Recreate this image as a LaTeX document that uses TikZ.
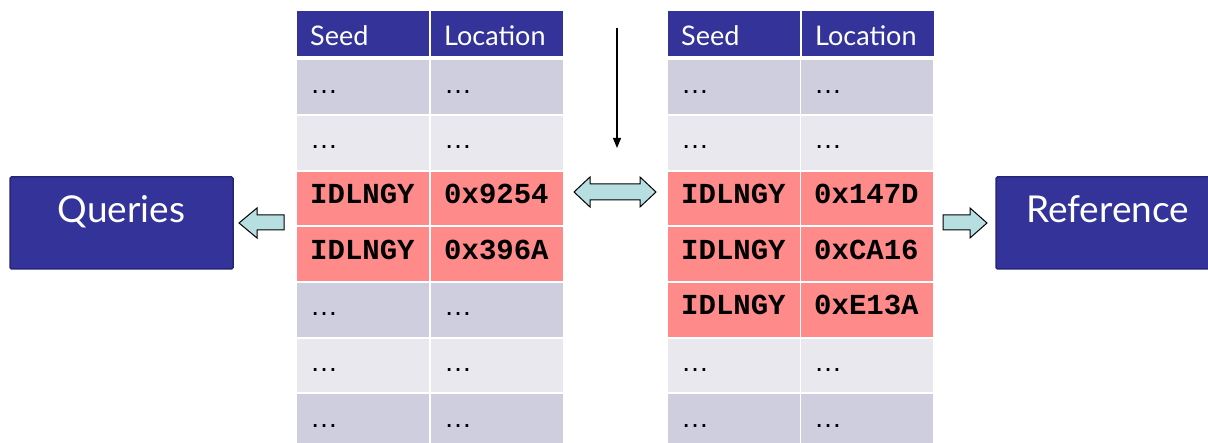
\documentclass[tikz,border=0pt]{standalone}
\usepackage{fontspec}
\setmainfont{Lato}
\setmonofont{Liberation Mono}
\newfontfamily\dotsfont{Liberation Sans}
\usetikzlibrary{arrows.meta}

\definecolor{hdr}{RGB}{51,51,153}
\definecolor{boxedge}{RGB}{38,38,120}
\definecolor{rowdark}{RGB}{207,206,223}
\definecolor{rowlight}{RGB}{232,232,238}
\definecolor{hit}{RGB}{255,138,138}
\definecolor{arrowfill}{RGB}{183,222,224}

\tikzset{
  cell/.style={anchor=north west, inner sep=0pt, minimum width=132pt,
    minimum height=53.7pt, text width=106pt, align=left},
  hdrcell/.style={cell, minimum height=45pt, fill=hdr, text=white,
    font=\fontsize{27}{30}\selectfont, text height=26pt, text depth=3pt},
  dotcell/.style={cell, font=\dotsfont\fontsize{28}{30}\selectfont,
    text height=20pt, text depth=7.7pt},
  dark/.style={dotcell, fill=rowdark},
  light/.style={dotcell, fill=rowlight},
  hitcell/.style={cell, fill=hit,
    font=\ttfamily\bfseries\fontsize{29}{31}\selectfont,
    text height=18pt, text depth=7.7pt},
  bigbox/.style={draw=boxedge, line width=1.5pt, fill=hdr, rounded corners=1.5pt,
    text=white, minimum width=223pt, minimum height=92pt, inner sep=0pt,
    font=\fontsize{37}{40}\selectfont, text height=20pt, text depth=20pt},
  blockarrow/.style={draw=black, line width=1pt, fill=arrowfill, line join=miter},
  pointer/.style={line width=1.2pt, -{Triangle[width=8pt,length=10pt]}}
}

\begin{document}
\begin{tikzpicture}[x=1pt,y=-1pt]
\useasboundingbox (0,0) rectangle (1208,443);

% the two seed tables
\foreach \tab/\x in {L/297, R/668} {
  \node[hdrcell] (\tab-h1) at (\x,11) {Seed};
  \node[hdrcell] (\tab-h2) at (\x+134,11) {Location};
}

% query table rows
\foreach \i/\kind/\a/\b in {1/dark/…/…, 2/light/…/…,
    3/hitcell/IDLNGY/0x9254, 4/hitcell/IDLNGY/0x396A,
    5/dark/…/…, 6/light/…/…, 7/dark/…/…} {
  \node[\kind] (L-\i-1) at (297,60+55.67*\i-55.67) {\a};
  \node[\kind] (L-\i-2) at (431,60+55.67*\i-55.67) {\b};
}

% reference table rows
\foreach \i/\kind/\a/\b in {1/dark/…/…, 2/light/…/…,
    3/hitcell/IDLNGY/0x147D, 4/hitcell/IDLNGY/0xCA16,
    5/hitcell/IDLNGY/0xE13A, 6/light/…/…, 7/dark/…/…} {
  \node[\kind] (R-\i-1) at (668,60+55.67*\i-55.67) {\a};
  \node[\kind] (R-\i-2) at (801,60+55.67*\i-55.67) {\b};
}

% the two end boxes
\node[bigbox] (queries) at (121.5,223) {Queries};
\node[bigbox] (reference) at (1107.5,223) {Reference};

% block arrows between boxes and tables
\coordinate (qa) at (239,223);
\draw[blockarrow] (qa) -- ++(18,-15) -- ++(0,7) -- ++(27,0) -- ++(0,15)
  -- ++(-27,0) -- ++(0,8) -- cycle;

\coordinate (da) at (574,192);
\draw[blockarrow] (da) -- ++(16,-15) -- ++(0,7) -- ++(50,0) -- ++(0,-7)
  -- ++(16,15) -- ++(-16,15) -- ++(0,-7) -- ++(-50,0) -- ++(0,7) -- cycle;

\coordinate (ra) at (987,223);
\draw[blockarrow] (ra) -- ++(-17,-15) -- ++(0,7) -- ++(-27,0) -- ++(0,15)
  -- ++(27,0) -- ++(0,8) -- cycle;

% downward pointer
\coordinate (ptop) at (617,28);
\coordinate (pend) at (617,148);
\draw[pointer] (ptop) -- (pend);
\end{tikzpicture}
\end{document}
